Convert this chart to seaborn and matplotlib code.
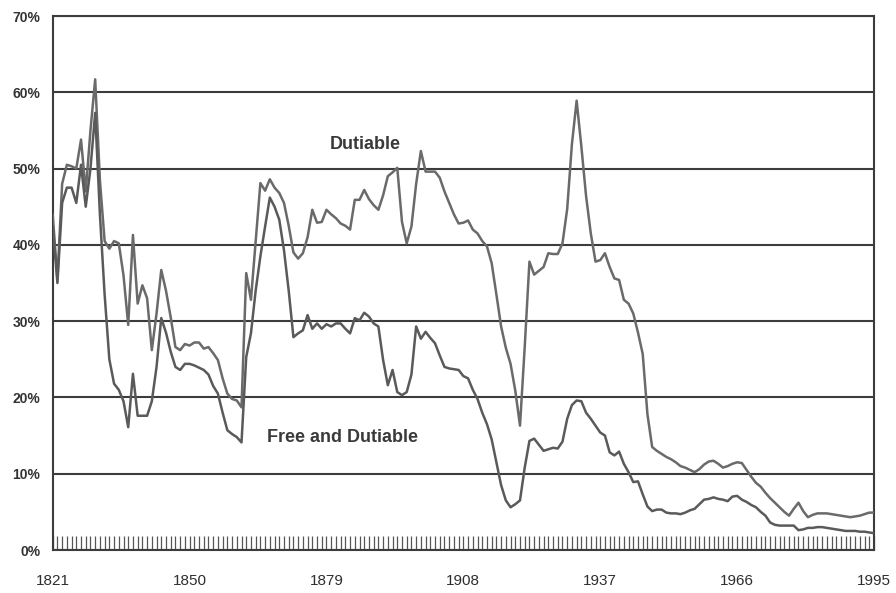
import numpy as np
import pandas as pd
import matplotlib
matplotlib.use("Agg")
import matplotlib.pyplot as plt
from matplotlib.ticker import FixedLocator, MultipleLocator, FuncFormatter
import seaborn as sns

years = list(range(1821, 1996))

dutiable = [
    44.0, 35.5, 48.0, 50.5, 50.3, 50.0, 53.8, 47.0, 55.0, 61.7,   # 1821-1830
    48.5, 40.5, 39.5, 40.5, 40.2, 36.0, 29.5, 41.3, 32.3, 34.7,   # 1831-1840
    33.0, 26.2, 31.0, 36.7, 34.0, 30.5, 26.6, 26.2, 27.0, 26.8,   # 1841-1850
    27.2, 27.2, 26.4, 26.6, 25.8, 24.9, 22.5, 20.5, 19.8, 19.6,   # 1851-1860
    18.7, 36.3, 32.8, 40.5, 48.1, 47.1, 48.6, 47.5, 46.8, 45.5,   # 1861-1870
    42.5, 39.0, 38.2, 38.9, 41.0, 44.6, 42.9, 43.0, 44.6, 44.0,   # 1871-1880
    43.5, 42.8, 42.5, 42.0, 45.9, 45.9, 47.2, 46.0, 45.2, 44.6,   # 1881-1890
    46.5, 49.0, 49.5, 50.1, 43.0, 40.2, 42.4, 48.0, 52.3, 49.6,   # 1891-1900
    49.6, 49.6, 48.8, 47.0, 45.5, 44.0, 42.8, 42.9, 43.2, 42.0,   # 1901-1910
    41.5, 40.5, 39.8, 37.6, 33.5, 29.3, 26.5, 24.4, 20.9, 16.3,   # 1911-1920
    26.6, 37.8, 36.1, 36.6, 37.1, 38.9, 38.8, 38.8, 40.2, 44.7,   # 1921-1930
    53.2, 58.9, 52.9, 46.4, 41.5, 37.8, 38.0, 38.9, 37.1, 35.6,   # 1931-1940
    35.4, 32.8, 32.3, 31.0, 28.5, 25.7, 17.8, 13.5, 13.0, 12.6,   # 1941-1950
    12.2, 11.9, 11.5, 11.0, 10.8, 10.5, 10.2, 10.6, 11.2, 11.6,   # 1951-1960
    11.7, 11.3, 10.8, 11.0, 11.3, 11.5, 11.4, 10.5, 9.6, 8.8,     # 1961-1970
    8.3, 7.5, 6.8, 6.2, 5.6, 5.0, 4.5, 5.4, 6.2, 5.1,             # 1971-1980
    4.3, 4.6, 4.8, 4.8, 4.8, 4.7, 4.6, 4.5, 4.4, 4.3,             # 1981-1990
    4.4, 4.5, 4.7, 4.9, 4.9,                                      # 1991-1995
]

free_and_dutiable = [
    42.5, 35.0, 45.5, 47.5, 47.5, 45.5, 50.5, 45.0, 50.0, 57.3,   # 1821-1830
    44.0, 33.5, 25.0, 21.8, 21.0, 19.5, 16.1, 23.1, 17.6, 17.6,   # 1831-1840
    17.6, 19.5, 24.0, 30.4, 28.5, 26.0, 24.0, 23.6, 24.4, 24.4,   # 1841-1850
    24.2, 23.9, 23.6, 23.0, 21.5, 20.5, 18.0, 15.7, 15.2, 14.8,   # 1851-1860
    14.1, 25.3, 28.4, 34.0, 38.5, 42.4, 46.2, 45.0, 43.3, 39.3,   # 1861-1870
    34.0, 27.9, 28.4, 28.8, 30.8, 29.0, 29.7, 29.0, 29.6, 29.3,   # 1871-1880
    29.7, 29.7, 29.0, 28.4, 30.4, 30.1, 31.1, 30.6, 29.7, 29.3,   # 1881-1890
    24.9, 21.6, 23.6, 20.7, 20.3, 20.7, 23.0, 29.3, 27.7, 28.6,   # 1891-1900
    27.8, 27.1, 25.5, 24.0, 23.8, 23.7, 23.6, 22.8, 22.5, 21.0,   # 1901-1910
    19.8, 18.0, 16.5, 14.5, 11.5, 8.5, 6.5, 5.6, 6.0, 6.5,        # 1911-1920
    10.8, 14.3, 14.6, 13.8, 13.0, 13.2, 13.4, 13.3, 14.2, 17.2,   # 1921-1930
    19.0, 19.6, 19.5, 18.0, 17.2, 16.3, 15.4, 15.0, 12.8, 12.4,   # 1931-1940
    12.9, 11.3, 10.2, 8.9, 9.0, 7.3, 5.7, 5.1, 5.3, 5.3,          # 1941-1950
    4.9, 4.8, 4.8, 4.7, 4.9, 5.2, 5.4, 6.0, 6.6, 6.7,             # 1951-1960
    6.9, 6.7, 6.6, 6.4, 7.0, 7.1, 6.6, 6.3, 5.9, 5.6,             # 1961-1970
    5.0, 4.5, 3.6, 3.3, 3.2, 3.2, 3.2, 3.2, 2.6, 2.7,             # 1971-1980
    2.9, 2.9, 3.0, 3.0, 2.9, 2.8, 2.7, 2.6, 2.5, 2.5,             # 1981-1990
    2.5, 2.4, 2.4, 2.3, 2.2,                                      # 1991-1995
]

series_names = ["Dutiable", "Free and Dutiable"]
x_tick_years = [1821, 1850, 1879, 1908, 1937, 1966, 1995]
y_ticks = [0, 10, 20, 30, 40, 50, 60, 70]

df = pd.DataFrame({
    "year": years * 2,
    "rate": dutiable + free_and_dutiable,
    "series": [series_names[0]] * len(years) + [series_names[1]] * len(years),
})

sns.set_style("white")
plt.rcParams["font.family"] = ["Liberation Sans", "DejaVu Sans"]

fig = plt.figure(figsize=(8.96, 5.93), dpi=100)
ax = fig.add_axes([52.7 / 896, 1 - 550 / 593, (874 - 52.7) / 896, (550 - 16) / 593])

line_col = "#5a5a5a"
grid_col = "#3c3c3c"

sns.lineplot(data=df, x="year", y="rate", hue="series",
             palette={series_names[0]: "#6a6a6a", series_names[1]: line_col},
             linewidth=1.8, legend=False, ax=ax, zorder=3)

ax.set_xlim(1821, 1995)
ax.set_ylim(0, 70)

for v in y_ticks:
    ax.axhline(v, color=grid_col, linewidth=1.5, zorder=1)

ax.yaxis.set_major_locator(FixedLocator(y_ticks))
ax.yaxis.set_major_formatter(FuncFormatter(lambda v, p: f"{int(v)}%"))
ax.tick_params(axis="y", length=0, pad=9, labelsize=10, labelcolor="#333333")
for lab in ax.get_yticklabels():
    lab.set_fontweight("bold")

ax.xaxis.set_major_locator(FixedLocator(x_tick_years))
ax.xaxis.set_minor_locator(MultipleLocator(1))
ax.xaxis.remove_overlapping_locs = False
ax.tick_params(axis="x", which="major", direction="out", length=7, width=1.5,
               color=grid_col, labelsize=11, labelcolor="#2e2e2e", pad=10)
ax.tick_params(axis="x", which="minor", direction="in", length=10, width=0.9,
               color="#555555", bottom=True)

for s in ax.spines.values():
    s.set_visible(True)
    s.set_color(grid_col)
    s.set_linewidth(1.5)

ax.set_xlabel("")
ax.set_ylabel("")

ax.text(1887.3, 53.2, "Dutiable", fontsize=13, fontweight="bold",
        color="#3a3a3a", ha="center", va="center")
ax.text(1882.5, 14.7, "Free and Dutiable", fontsize=13, fontweight="bold",
        color="#3a3a3a", ha="center", va="center")

fig.savefig("out.png", dpi=100)
